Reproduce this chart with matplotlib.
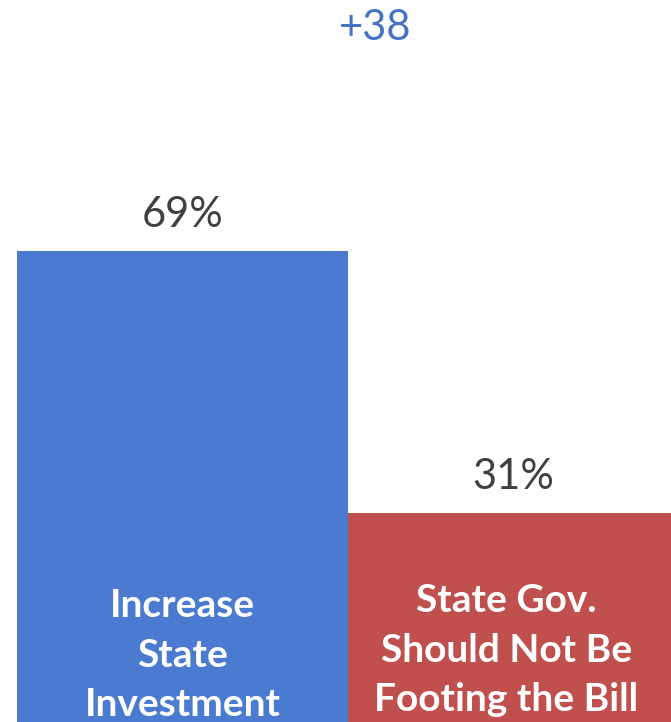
import matplotlib.pyplot as plt

categories = ['Increase\nState\nInvestment', 'State Gov.\nShould Not Be\nFooting the Bill']
values = [69, 31]
value_labels = ['69%', '31%']
colors = ['#4A7BD1', '#C0504D']
margin_label = '+38'

plt.rcParams['font.family'] = ['Lato', 'DejaVu Sans']

fig = plt.figure(figsize=(6.71, 7.22), dpi=100)
ax = fig.add_axes([0, 0, 1, 1])

xs = range(len(values))
ax.bar(xs, values, width=1.0, color=colors, edgecolor='none')

label_x = [0, 1.0]
for x, v, lab in zip(label_x, values, value_labels):
    ax.text(x, v + 5.2, lab, ha='center', va='center', fontsize=30, color='#404040')

# labels inside the bars
ax.text(0, 10.4, categories[0], ha='center', va='center', fontsize=28,
        fontweight='bold', color='white', linespacing=1.5)
ax.text(0.978, 11.1, categories[1], ha='center', va='center', fontsize=28,
        fontweight='bold', color='white', linespacing=1.5)

ax.text(0.582, 101.4, margin_label, ha='center', va='center', fontsize=30, color='#4472C4')

ax.set_xlim(-0.551, 1.476)
ax.set_ylim(0.7, 105.4)
ax.axis('off')

fig.savefig('out.png', dpi=100)
